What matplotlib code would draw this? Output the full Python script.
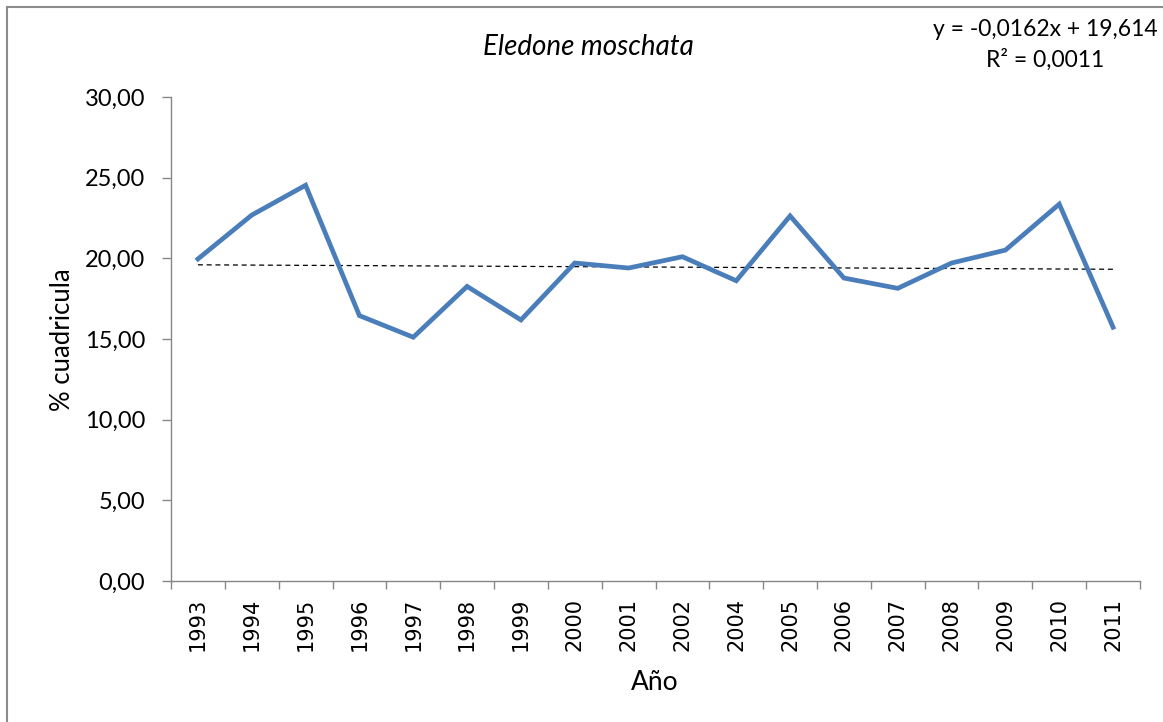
import matplotlib.pyplot as plt
import numpy as np
from matplotlib.lines import Line2D

years = ['1993', '1994', '1995', '1996', '1997', '1998', '1999', '2000', '2001',
         '2002', '2004', '2005', '2006', '2007', '2008', '2009', '2010', '2011']
pct_cuadricula = [19.96, 22.68, 24.53, 16.45, 15.11, 18.26, 16.18, 19.71, 19.40,
                  20.10, 18.61, 22.63, 18.78, 18.14, 19.71, 20.51, 23.36, 15.73]
trend_slope = -0.0162
trend_intercept = 19.614
y_ticks = [0, 5, 10, 15, 20, 25, 30]

font = 'Lato'
blue = '#4A7EBB'
gray = '#868686'

fig = plt.figure(figsize=(11.63, 7.22), dpi=100)
ax = fig.add_axes([171/1163, 1 - 581/722, (1140 - 171)/1163, (581 - 97)/722])

x = np.arange(len(years))
ax.plot(x, pct_cuadricula, color=blue, lw=3.4, solid_joinstyle='miter', zorder=3)

# linear trend (Excel style, x = 1..n)
xn = np.array([1, len(years)])
ax.plot(xn - 1, trend_slope*xn + trend_intercept, color='black', lw=0.9,
        dashes=(4, 3), zorder=2)

ax.set_xlim(-0.5, len(years) - 0.5)
ax.set_ylim(0, 30)

ax.set_xticks(x)
ax.set_xticklabels(years, rotation=90, fontsize=15, family='DejaVu Sans')
ax.set_xticks(np.arange(len(years) + 1) - 0.5, minor=True)
ax.tick_params(axis='x', which='major', length=0, pad=12)
ax.tick_params(axis='x', which='minor', length=6, color=gray, width=1)

ax.set_yticks(y_ticks)
ax.set_yticklabels([('%.2f' % v).replace('.', ',') for v in y_ticks],
                   fontsize=17, family=font)
ax.tick_params(axis='y', length=6.5, color=gray, width=1, pad=12)

for s in ['top', 'right']:
    ax.spines[s].set_visible(False)
for s in ['left', 'bottom']:
    ax.spines[s].set_color(gray)
    ax.spines[s].set_linewidth(1)

fig.text(62/1163, 1 - 340/722, '% cuadricula', rotation=90, ha='center', va='center',
         fontsize=18.5, family=font)
fig.text(655/1163, 1 - 682/722, 'Año', ha='center', va='center', fontsize=19, family=font)
fig.text(588/1163, 1 - 47/722, 'Eledone moschata', ha='center', va='center',
         fontsize=20, family=font, style='italic')
fig.text(1045/1163, 1 - 30/722, 'y = -0,0162x + 19,614', ha='center', va='center',
         fontsize=16.5, family=font)
fig.text(1045/1163, 1 - 60/722, 'R² = 0,0011', ha='center', va='center',
         fontsize=16.5, family=font)

# chart area border (top and left edges visible)
fig.add_artist(Line2D([7/1163, 1], [1 - 7/722, 1 - 7/722], color='#8c8c8c', lw=1.5,
                      transform=fig.transFigure))
fig.add_artist(Line2D([7/1163, 7/1163], [0, 1 - 7/722], color='#8c8c8c', lw=1.5,
                      transform=fig.transFigure))

fig.savefig('out.png', dpi=100, facecolor='white')
